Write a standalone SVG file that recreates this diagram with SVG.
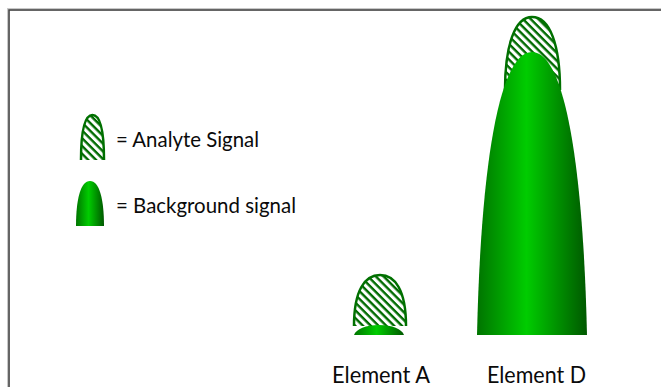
<svg xmlns="http://www.w3.org/2000/svg" width="661" height="387" viewBox="0 0 661 387">
<style>
.lbl{font-family:Lato,"Liberation Sans",sans-serif;fill:#0a0a0a;}
.hatch{fill:url(#hatch);stroke:#007000;stroke-width:2.5;}
.solid{fill:url(#grad);}
</style>
<defs>
<pattern id="hatch" patternUnits="userSpaceOnUse" width="5.5" height="5.5" patternTransform="rotate(45)">
<rect width="5.5" height="5.5" fill="#fff"/>
<rect x="0" y="0" width="5.5" height="2.4" fill="#006a00"/>
</pattern>
<linearGradient id="grad" x1="0" y1="0" x2="1" y2="0">
<stop offset="0" stop-color="#007400"/>
<stop offset="0.45" stop-color="#00cc00"/>
<stop offset="1" stop-color="#005800"/>
</linearGradient>
</defs>
<rect width="661" height="387" fill="#fff"/>
<g id="frame">
<path d="M8.5,387 V9.5 H661" fill="none" stroke="#c8c8c8" stroke-width="3"/>
<path d="M9,387 V10 H661" fill="none" stroke="#444" stroke-width="1.5"/>
</g>
<g id="legend-analyte">
<path class="hatch" d="M81,160 C81,130 85,115 92.5,115 C100,115 104,130 104,160"/>
<text class="lbl" x="116" y="147" font-size="20.5" textLength="143" lengthAdjust="spacingAndGlyphs">= Analyte Signal</text>
</g>
<g id="legend-background">
<path class="solid" d="M76,226 C76,198 81,181 90,181 C99,181 104,198 104,226 Z"/>
<text class="lbl" x="116" y="213" font-size="20.5" textLength="180" lengthAdjust="spacingAndGlyphs">= Background signal</text>
</g>
<g id="element-a">
<path class="hatch" d="M354,326 C354,290 365,275 380,275 C395,275 406,290 406,326"/>
<path class="solid" d="M354,335 C356,329 366,325 379,325 C392,325 402,329 404,335 Z"/>
<text class="lbl" x="332" y="383" font-size="22.5" textLength="98" lengthAdjust="spacingAndGlyphs">Element A</text>
</g>
<g id="element-d">
<path class="hatch" d="M505,90 C505,45 515,17 532,17 C550,17 560,45 560,90"/>
<path class="solid" d="M477,335 C481,160 500,52 532,52 C564,52 583,160 587,335 Z"/>
<text class="lbl" x="487" y="383" font-size="22.5" textLength="99" lengthAdjust="spacingAndGlyphs">Element D</text>
</g>
</svg>
